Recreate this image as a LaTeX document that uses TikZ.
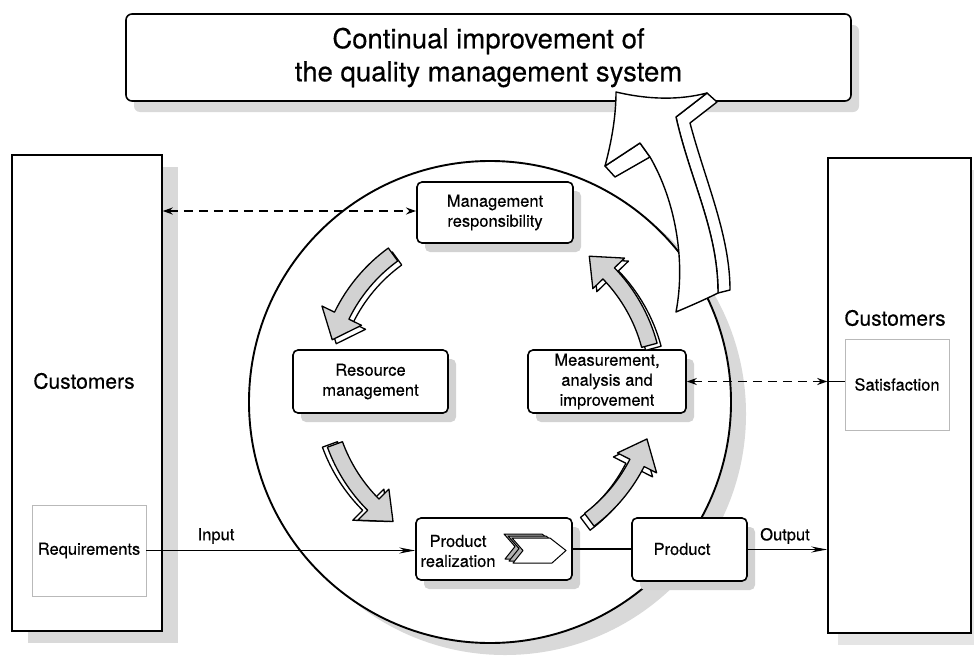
\documentclass[tikz,border=0pt]{standalone}
\usepackage{fontspec}
\setmainfont{TeX Gyre Heros}[FakeBold=0.4]
\usetikzlibrary{arrows.meta,shadows}
\newcommand{\cycarrow}[4]{%
  \pgfmathsetmacro{\hbang}{#2-9}%
  \foreach \sx/\sy/\fc in {#3/#4/white, 0/0/gray!35} {%
    \begin{scope}[shift={(490+\sx,-388+\sy)}]
      \filldraw[fill=\fc, draw=black, line width=1.3pt, line join=round]
        (#1:157) arc[start angle=#1, end angle=\hbang, radius=157pt]
        -- (\hbang:143) -- (#2:165) -- (\hbang:187) -- (\hbang:173)
        arc[start angle=\hbang, end angle=#1, radius=173pt] -- cycle;
    \end{scope}}%
}
\begin{document}
\begin{tikzpicture}[x=1pt,y=1pt,
  small/.style={font=\fontsize{16.5}{20}\selectfont},
  custbox/.style={draw=black, line width=1.5pt, fill=white},
  subbox/.style={draw=gray!55, line width=0.8pt, fill=white, small},
  procbox/.style={draw=black, line width=1.6pt, rounded corners=5pt, fill=white,
    align=center, small, inner sep=0pt,
    drop shadow={shadow xshift=8pt, shadow yshift=-9pt, fill=gray!35, opacity=1}},
  dashline/.style={line width=1.5pt, dash pattern=on 9pt off 6pt},
  tipD/.style={{Stealth[length=10pt,width=7pt]}-{Stealth[length=10pt,width=7pt]}},
  bigarrow/.style={fill=white, draw=black, line width=1.4pt, line join=round}
]
\useasboundingbox (0,0) rectangle (974,-656);
\fill[white] (0,0) rectangle (974,-656);

% banner
\node[draw=black, line width=1.6pt, rounded corners=6pt, fill=white,
  minimum width=725pt, minimum height=87pt, inner sep=0pt, align=center,
  font=\fontsize{27.5}{33}\selectfont,
  drop shadow={shadow xshift=8pt, shadow yshift=-11pt, fill=gray!30, opacity=1}]
  (banner) at (488.5,-57.5) {Continual improvement of\\the quality management system};

% customer boxes
\node[custbox, minimum width=150pt, minimum height=476pt, inner sep=0pt,
  drop shadow={shadow xshift=16pt, shadow yshift=-12pt, fill=gray!30, opacity=1}]
  (custL) at (87,-393) {};
\node[font=\fontsize{21}{25}\selectfont] (custLt) at (84,-381) {Customers};
\node[subbox, minimum width=114pt, minimum height=91pt, inner sep=0pt] (req) at (89,-550.5) {Requirements};

\node[custbox, minimum width=143pt, minimum height=475pt, inner sep=0pt,
  drop shadow={shadow xshift=10pt, shadow yshift=-12pt, fill=gray!20, opacity=1}]
  (custR) at (899.5,-395.5) {};
\node[font=\fontsize{21}{25}\selectfont] (custRt) at (895,-318) {Customers};
\node[subbox, minimum width=104pt, minimum height=91pt, inner sep=0pt] (sat) at (897,-384.5) {Satisfaction};

% circle
\fill[gray!30] (505,-414) circle (241);
\draw[line width=1.9pt, fill=white] (490,-402) circle (241);

% dashed link to management
\draw[dashline, tipD] (custL.east |- 0,-211) -- (416,-211) coordinate (mgmtin);

% process boxes
\node[procbox, minimum width=156pt, minimum height=61pt] (mgmt) at (495,-212.5) {Management\\responsibility};
\node[procbox, minimum width=155pt, minimum height=63pt] (res) at (370.5,-381.5) {Resource\\management};
\node[procbox, minimum width=158pt, minimum height=63pt] (meas) at (607,-381.5) {Measurement,\\analysis and\\improvement};
\node[procbox, minimum width=156pt, minimum height=62pt] (preal) at (494,-549) {};
\node[small, align=center] (prealt) at (458,-551) {Product\\realization};
\node[procbox, minimum width=115pt, minimum height=63pt] (prod) at (689.5,-549.5) {};
\node[small] (prodt) at (682,-549) {Product};

\draw[dashline, tipD] (meas.east) -- (custR.west |- meas.east) coordinate (satin);
\draw[line width=1.3pt] (satin) -- (sat.west |- meas.east);

% chevron icon
\foreach \dx/\dy/\fc in {-8/4/gray!60, -4/2/gray!60, 0/0/white} {
  \filldraw[fill=\fc, draw=black, line width=1pt, line join=round, shift={(\dx,\dy)}]
    (512,-538) -- (550,-538) -- (566,-550.5) -- (552,-563) -- (513,-563) -- (523,-550.5) -- cycle;
}

% cycle arrows
\cycarrow{126}{163}{4}{-4}
\cycarrow{200}{234}{-5}{0}
\cycarrow{307}{342}{-4}{-4}
\cycarrow{15}{53}{4}{-3}

% big improvement arrow
\filldraw[bigarrow] (707,-93) -- (717,-102) -- (690,-123)
  .. controls (705,-180) and (730,-235) .. (730,-290) -- (718,-293)
  .. controls (718,-230) and (690,-180) .. (676,-117) -- cycle;
\filldraw[bigarrow] (640,-143) -- (605,-166) -- (615,-177) -- (650,-157) -- cycle;
\filldraw[bigarrow] (616,-92) .. controls (650,-100) and (680,-100) .. (707,-93)
  -- (676,-117) .. controls (690,-180) and (718,-230) .. (718,-293)
  .. controls (704,-300) and (690,-306) .. (676,-312)
  .. controls (686,-260) and (675,-200) .. (650,-157)
  -- (640,-143) -- (605,-166)
  .. controls (612,-140) and (616,-115) .. (616,-92) -- cycle;

% input / output
\draw[line width=1.3pt, -{Stealth[length=16pt,width=6pt]}] (req.east) -- (preal.west |- req.east);
\node[small] (inlab) at (216,-536) {Input};
\draw[line width=1.3pt] (preal.east) -- (prod.west |- preal.east);
\draw[line width=1.3pt, -{Stealth[length=16pt,width=6pt]}] (prod.east) -- (custR.west |- prod.east);
\node[small] (outlab) at (785,-536) {Output};
\end{tikzpicture}
\end{document}
